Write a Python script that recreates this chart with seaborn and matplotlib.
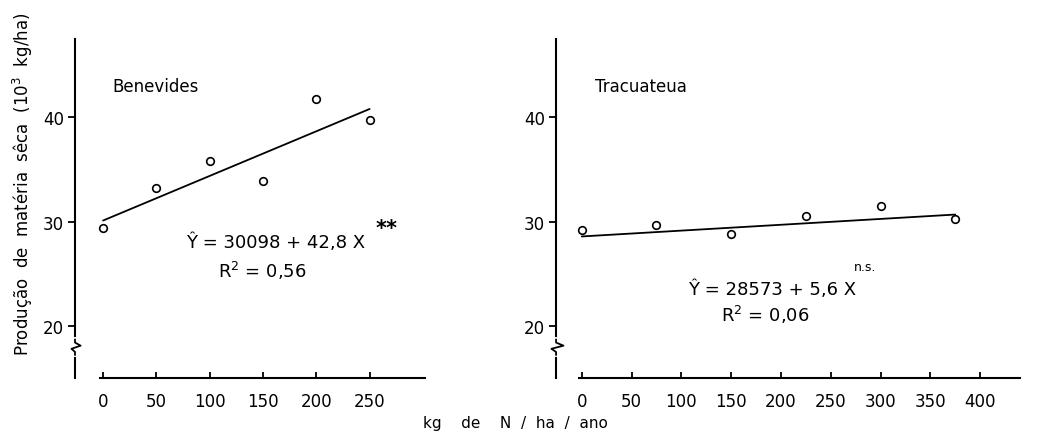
import matplotlib
matplotlib.use("Agg")
import matplotlib.pyplot as plt
import matplotlib.transforms as mtransforms
import numpy as np
import pandas as pd
import seaborn as sns

# Benevides
ben_n = [0, 50, 100, 150, 200, 250]
ben_yield = [29.4, 33.2, 35.8, 33.9, 41.8, 39.7]
ben_coef = (30.098, 0.0428)   # Y = 30098 + 42,8 X  (10^3 kg/ha)

# Tracuateua
tra_n = [0, 75, 150, 225, 300, 375]
tra_yield = [29.2, 29.7, 28.8, 30.5, 31.5, 30.2]
tra_coef = (28.573, 0.0056)   # Y = 28573 + 5,6 X

y_ticks = [20, 30, 40]
ben_xticks = [0, 50, 100, 150, 200, 250]
tra_xticks = [0, 50, 100, 150, 200, 250, 300, 350, 400]

sns.set_style("ticks")
plt.rcParams['font.family'] = ['DejaVu Sans']
plt.rcParams.update({'text.color': 'black', 'axes.labelcolor': 'black',
                     'xtick.color': 'black', 'ytick.color': 'black',
                     'axes.edgecolor': 'black'})

fig = plt.figure(figsize=(10.64, 4.39), dpi=100)
ax1 = fig.add_axes([0.0705, 0.1367, 0.329, 0.772])
ax2 = fig.add_axes([0.5226, 0.1367, 0.436, 0.772])


def draw_panel(ax, xs, ys, coef, xticks, xlim):
    df = pd.DataFrame({'N': xs, 'yield': ys})
    sns.scatterplot(data=df, x='N', y='yield', ax=ax, marker='o', s=30,
                    facecolor='white', edgecolor='black', linewidth=1.2, zorder=3)
    ends = np.array([xs[0], xs[-1]])
    fit = pd.DataFrame({'N': ends, 'yield': coef[0] + coef[1] * ends})
    sns.lineplot(data=fit, x='N', y='yield', ax=ax, color='black', linewidth=1.3)

    ax.set_xlim(*xlim)
    ax.set_ylim(15, 47.5)
    ax.set_xticks(xticks)
    ax.set_yticks(y_ticks)
    ax.set_xlabel('')
    ax.set_ylabel('')
    ax.tick_params(axis='x', direction='in', length=4, width=1.3, labelsize=12, pad=10)
    ax.tick_params(axis='y', direction='out', length=5, width=1.3, labelsize=12, pad=3)
    for side in ['top', 'right']:
        ax.spines[side].set_visible(False)
    ax.spines['left'].set_linewidth(1.5)
    ax.spines['bottom'].set_linewidth(1.5)
    ax.spines['bottom'].set_bounds(-2.5, xlim[1])

    # axis break on the y axis
    trans = mtransforms.blended_transform_factory(ax.transAxes, ax.transData)
    ax.plot([0, 0], [17.2, 18.7], color='white', linewidth=3, transform=trans,
            clip_on=False, zorder=4)
    ax.plot([0, 0, -0.01, 0.016, 0, 0], [17.2, 17.5, 17.8, 18.1, 18.4, 18.7],
            color='black', linewidth=1.3, transform=trans, clip_on=False, zorder=5)


draw_panel(ax1, ben_n, ben_yield, ben_coef, ben_xticks, (-26.3, 302))
draw_panel(ax2, tra_n, tra_yield, tra_coef, tra_xticks, (-25.8, 440))

ax1.text(9, 43.0, 'Benevides', fontsize=12, va='center', ha='left')
ax1.text(162, 28.1, 'Ŷ = 30098 + 42,8 X', fontsize=13, va='center', ha='center')
ax1.text(149, 25.4, 'R$^2$ = 0,56', fontsize=13, va='center', ha='center')
ax1.text(266, 29.4, '**', fontsize=15, va='center', ha='center', fontweight='bold')

ax2.text(13, 43.0, 'Tracuateua', fontsize=12, va='center', ha='left')
ax2.text(191, 23.6, 'Ŷ = 28573 + 5,6 X', fontsize=13, va='center', ha='center')
ax2.text(284, 25.7, 'n.s.', fontsize=9, va='center', ha='center')
ax2.text(184, 21.1, 'R$^2$ = 0,06', fontsize=13, va='center', ha='center')

ax1.set_ylabel('Produção  de  matéria  sêca  (10$^3$  kg/ha)', fontsize=12)
ax1.yaxis.set_label_coords(-0.115, 0.575)

fig.text(515 / 1064, 1 - 424 / 439, 'kg    de    N  /  ha  /  ano', fontsize=11,
         ha='center', va='center')

fig.savefig('out.png', dpi=100)
